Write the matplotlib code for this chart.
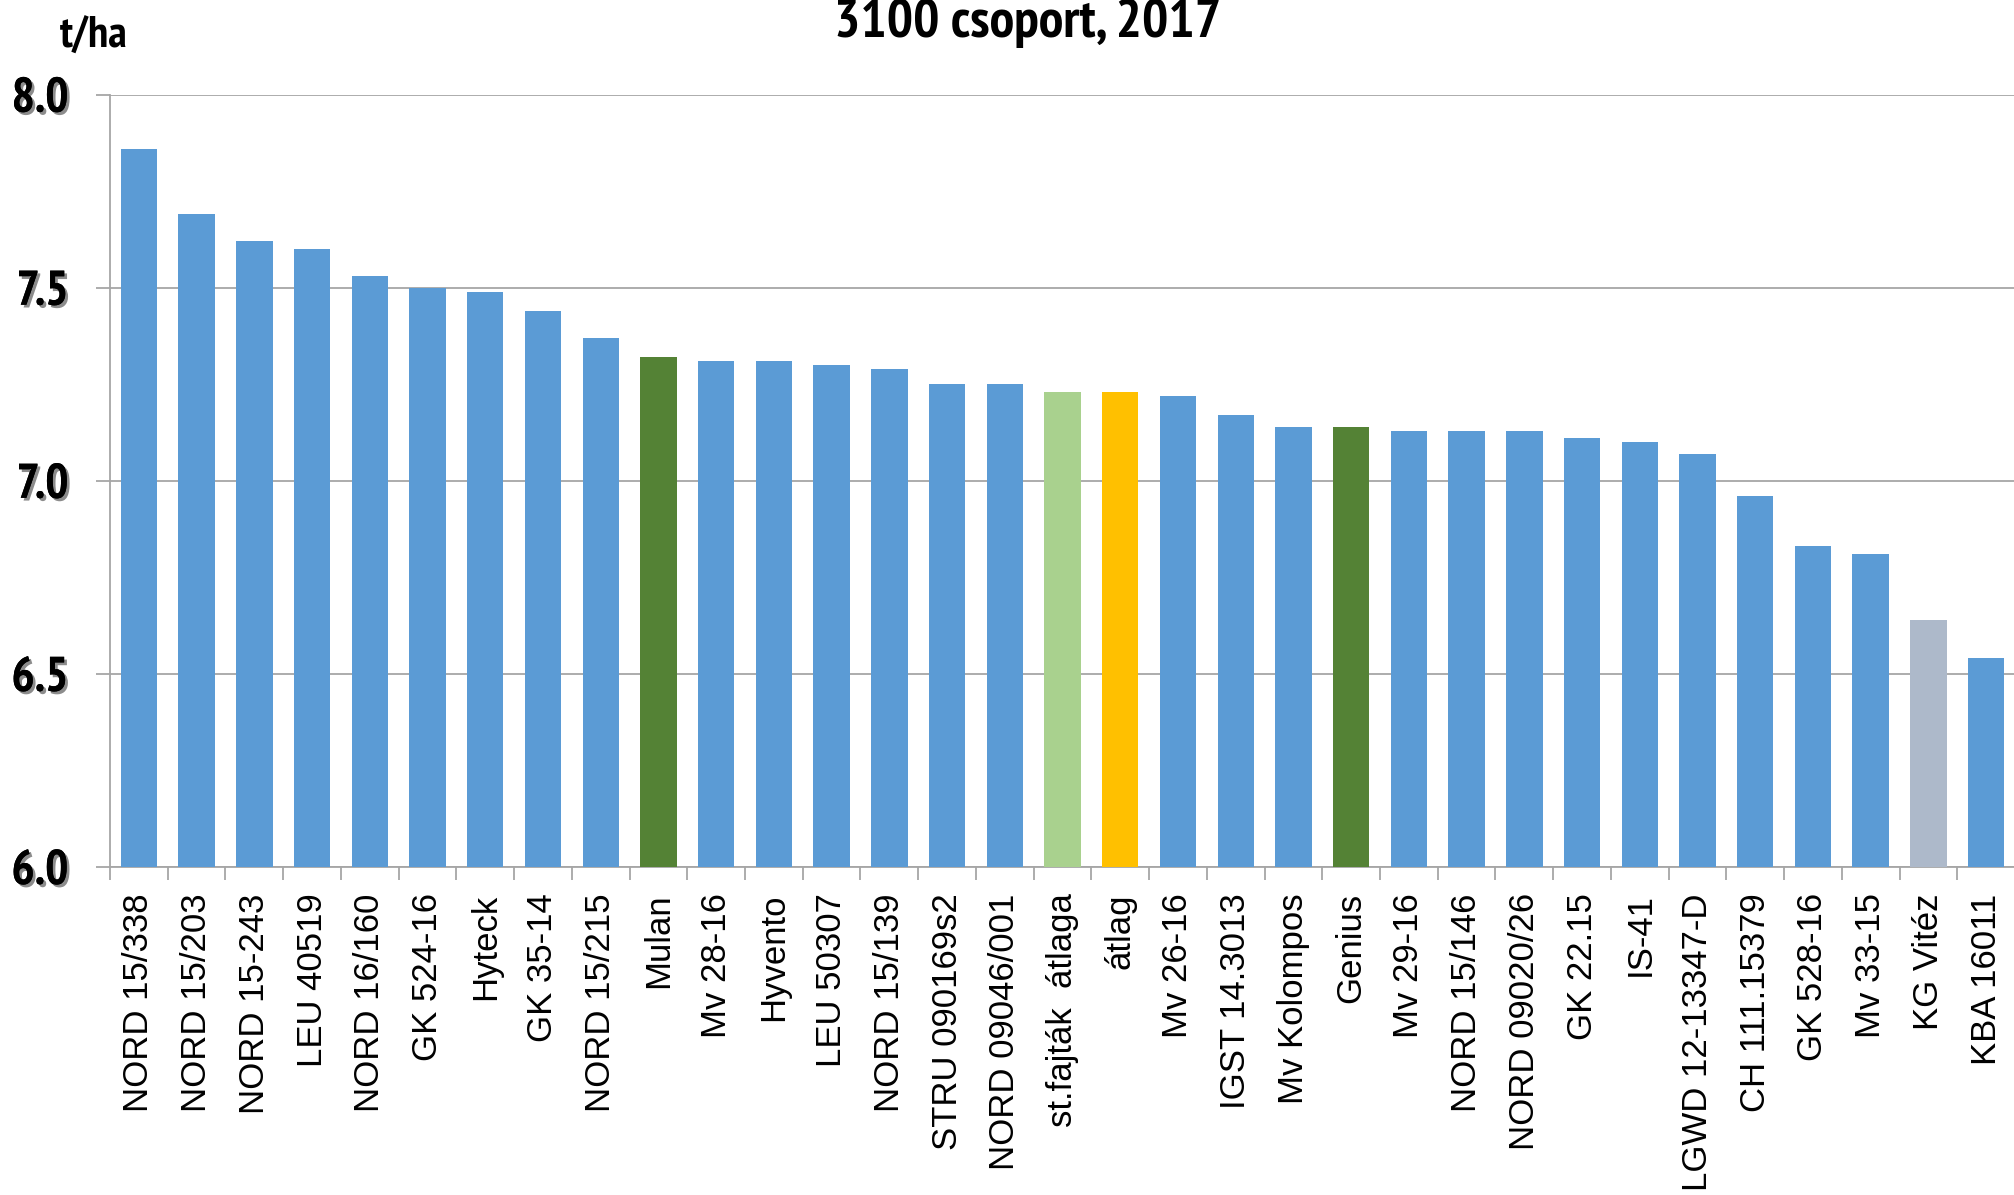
import matplotlib
matplotlib.use('Agg')
import matplotlib.pyplot as plt
import matplotlib.patheffects as pe
from matplotlib import font_manager
import numpy as np

# fajták és termés (t/ha)
fajtak = ['NORD 15/338', 'NORD 15/203', 'NORD 15-243', 'LEU 40519', 'NORD 16/160',
          'GK 524-16', 'Hyteck', 'GK 35-14', 'NORD 15/215', 'Mulan', 'Mv 28-16',
          'Hyvento', 'LEU 50307', 'NORD 15/139', 'STRU 090169s2', 'NORD 09046/001',
          'st.fajták  átlaga', 'átlag', 'Mv 26-16', 'IGST 14.3013', 'Mv Kolompos',
          'Genius', 'Mv 29-16', 'NORD 15/146', 'NORD 09020/26', 'GK 22.15', 'IS-41',
          'LGWD 12-13347-D', 'CH 111.15379', 'GK 528-16', 'Mv 33-15', 'KG Vitéz',
          'KBA 16011']
termes = [7.86, 7.69, 7.62, 7.60, 7.53, 7.50, 7.49, 7.44, 7.37, 7.32, 7.31,
          7.31, 7.30, 7.29, 7.25, 7.25, 7.23, 7.23, 7.22, 7.17, 7.14,
          7.14, 7.13, 7.13, 7.13, 7.11, 7.10, 7.07, 6.96, 6.83, 6.81, 6.64,
          6.54]
# kategória: 0 = jelölt, 1 = standard, 2 = st. átlag, 3 = átlag, 4 = egyéb
kategoria = [0, 0, 0, 0, 0, 0, 0, 0, 0, 1, 0, 0, 0, 0, 0, 0, 2, 3, 0, 0, 0,
             1, 0, 0, 0, 0, 0, 0, 0, 0, 0, 4, 0]
yticks = [6.0, 6.5, 7.0, 7.5, 8.0]

szinek = {0: '#5B9BD5', 1: '#548235', 2: '#A9D18E', 3: '#FFC000', 4: '#ADB9CA'}

# keskeny, félkövér betű keresése (Arial Narrow Bold helyett)
bold_fonts = set(f.name for f in font_manager.fontManager.ttflist if f.weight in (700, 'bold'))
narrow = 'Liberation Sans'
for cand in ['Arial Narrow', 'Liberation Sans Narrow', 'Archivo Narrow', 'PT Sans Narrow',
             'Roboto Condensed', 'Pragati Narrow', 'Fira Sans Condensed',
             'IBM Plex Sans Condensed', 'Encode Sans Condensed']:
    if cand in bold_fonts:
        narrow = cand
        break
bold_font = [narrow, 'DejaVu Sans']

fig = plt.figure(figsize=(20.15, 11.95), dpi=100)
ax = fig.add_axes([0.0546, 0.2745, 0.9454, 0.6463])

x = np.arange(len(fajtak))
ax.bar(x, termes, width=0.63, color=[szinek[k] for k in kategoria], zorder=3)

ax.set_xlim(-0.5, len(fajtak) - 0.5)
ax.set_ylim(6.0, 8.0)
ax.set_yticks(yticks)
ax.set_yticklabels(['%.1f' % v for v in yticks])
ax.grid(axis='y', color='#A6A6A6', linewidth=1.3, zorder=0)

ax.set_xticks(x)
ax.set_xticklabels(fajtak, rotation=90, fontsize=25, family='Liberation Sans',
                   va='top', ha='center')
ax.set_xticks(np.arange(len(fajtak) + 1) - 0.5, minor=True)
ax.tick_params(axis='x', which='major', length=0, pad=19)
ax.tick_params(axis='x', which='minor', length=9.5, width=1.3, color='#A6A6A6')
ax.tick_params(axis='y', length=10, width=1.3, color='#A6A6A6', pad=20)

for s in ['top', 'right']:
    ax.spines[s].set_visible(False)
for s in ['left', 'bottom']:
    ax.spines[s].set_color('#A6A6A6')
    ax.spines[s].set_linewidth(1.3)

cim = fig.text(1028 / 2015, 1 - 37 / 1195, '3100 csoport, 2017', ha='center',
               va='baseline', fontsize=36, fontweight='bold', family=bold_font)
egyseg = fig.text(94 / 2015, 1 - 48 / 1195, 't/ha', ha='center', va='baseline',
                  fontsize=34, fontweight='bold', family=bold_font)

for lab in ax.get_yticklabels():
    lab.set_family(bold_font)
    lab.set_fontweight('bold')
    lab.set_fontsize(34)
    lab.set_path_effects([pe.withSimplePatchShadow(offset=(2, -2), alpha=0.45), pe.Normal()])

# betűméret igazítása a képen mért szélességekhez
fig.canvas.draw()
r = fig.canvas.get_renderer()
for t, w in [(cim, 388), (egyseg, 68)]:
    t.set_fontsize(t.get_fontsize() * w / t.get_window_extent(r).width)
ylab = ax.get_yticklabels()
k = 57 / ylab[-1].get_window_extent(r).width
for lab in ylab:
    lab.set_fontsize(lab.get_fontsize() * k)

fig.savefig('out.png', dpi=100)
